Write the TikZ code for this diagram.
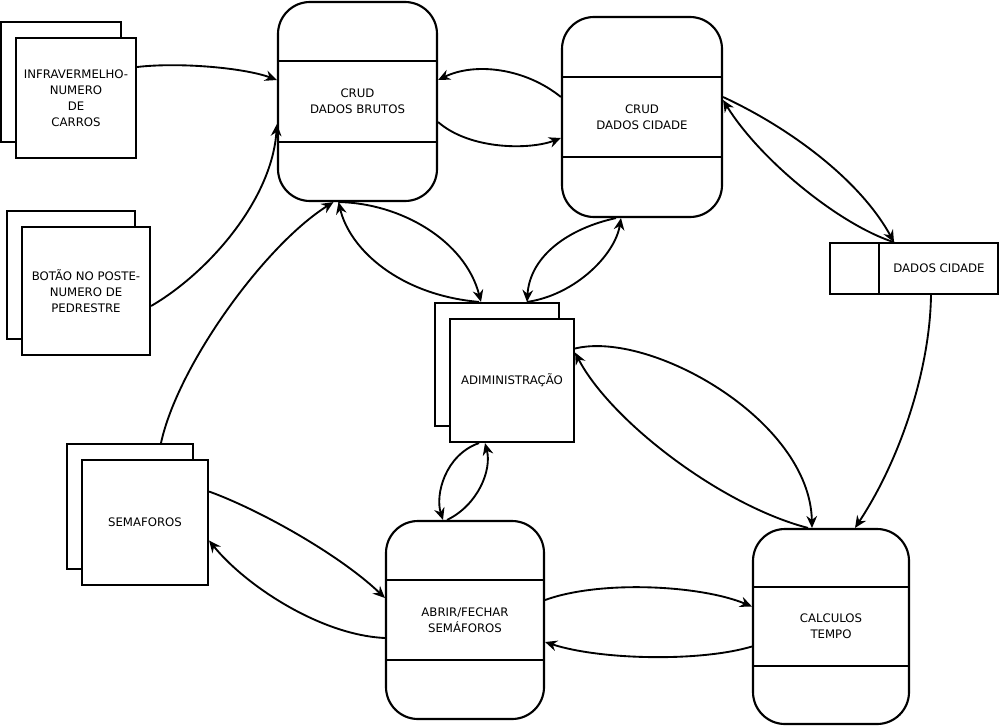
\documentclass[tikz,border=0pt]{standalone}
\usepackage{fontspec}
\setmainfont{DejaVu Sans}
\usepackage{tikz}
\usetikzlibrary{arrows.meta,calc,shadows}
\tikzset{entity/.style={draw, fill=white, line width=1.6pt, align=center,
   copy shadow={shadow xshift=-11.25pt, shadow yshift=12pt, draw, fill=white, line width=1.6pt}},
 process/.style={draw, fill=white, rounded corners=24pt, line width=1.6pt, align=center},
 store/.style={draw, line width=1.2pt, minimum width=126pt, minimum height=38.25pt},
 flow/.style={line width=1.4pt, -{Stealth[length=9pt,width=8pt,inset=3pt]}},
 }

\begin{document}
\begin{tikzpicture}[x=0.75pt, y=-0.75pt, font=\fontsize{8.8pt}{12pt}\selectfont]
        \useasboundingbox (0,0) rectangle (999,725);
        \node[entity, minimum width=90pt, minimum height=90pt] (infra) at (76,98)
            {INFRAVERMELHO-\\NUMERO\\DE\\CARROS};
        \node[entity, minimum width=96pt, minimum height=96pt] (botao) at (86,291)
            {BOTÃO NO POSTE-\\NUMERO DE\\PEDRESTRE};
        \node[entity, minimum width=94.5pt, minimum height=93.75pt] (semaf) at (145,522.5) {SEMAFOROS};
        \node[entity, minimum width=93pt, minimum height=92.25pt] (admin) at (512,380.5) {ADIMINISTRAÇÃO};
        \node[process, minimum width=119.25pt, minimum height=149.25pt] (bruto) at (357.5,101.5)
            {CRUD\\DADOS BRUTOS};
        \node[process, minimum width=120pt, minimum height=150pt] (cidade) at (642,117)
            {CRUD\\DADOS CIDADE};
        \node[process, minimum width=118.5pt, minimum height=148.5pt] (abrir) at (465,620)
            {ABRIR/FECHAR\\SEMÁFOROS};
        \node[process, minimum width=117pt, minimum height=146.25pt] (calc) at (831,626.5)
            {CALCULOS\\TEMPO};
        \node[store, label={[xshift=18.75pt]center:DADOS CIDADE}] (dados) at (914,268.5) {};
        \draw[line width=1.2pt] ([xshift=37.5pt]dados.north west) -- ([xshift=37.5pt]dados.south west);
        \foreach \n in {bruto,cidade,abrir,calc} {
            \draw[line width=1.6pt] ($(\n.north west)!.3!(\n.south west)$) -- ($(\n.north east)!.3!(\n.south east)$);
            \draw[line width=1.6pt] ($(\n.north west)!.7!(\n.south west)$) -- ($(\n.north east)!.7!(\n.south east)$);
        }
        \draw[flow] ($(infra.east)+(0,-31)$) .. controls (180,62) and (245,68) .. ($(bruto.west)+(0,-21.5)$);
        \draw[flow] ($(botao.east)+(0,15)$) .. controls (208,273) and (272,200) .. ($(bruto.west)+(0,22.5)$);
        \draw[flow] ($(semaf.north)+(16,-16)$) .. controls (178,365) and (265,245) .. ($(bruto.south)+(-24,0)$);
        \draw[flow] ($(bruto.south)+(-19,0)$) .. controls (400,203) and (465,240) .. ($(admin.north)+(-31,-16)$);
        \draw[flow] ($(admin.north)+(-33,-16)$) .. controls (400,295) and (350,250) .. ($(bruto.south)+(-19,0)$);
        \draw[flow] ($(cidade.south)+(-26,0)$) .. controls (570,228) and (530,255) .. ($(admin.north)+(15,-16)$);
        \draw[flow] ($(admin.north)+(15,-16)$) .. controls (575,295) and (615,255) .. ($(cidade.south)+(-21,0)$);
        \draw[flow] ($(cidade.west)+(0,-20)$) .. controls (525,68) and (475,62) .. ($(bruto.east)+(0,-21.5)$);
        \draw[flow] ($(bruto.east)+(0,20.5)$) .. controls (470,150) and (530,150) .. ($(cidade.west)+(0,21)$);
        \draw[flow] ($(cidade.east)+(0,-20)$) .. controls (790,128) and (860,180) .. ($(dados.north)+(-20,0)$);
        \draw[flow] ($(dados.north)+(-20,0)$) .. controls (840,225) and (760,160) .. ($(cidade.east)+(0,-17)$);
        \draw[flow] ($(dados.south)+(17,0)$) .. controls (930,370) and (900,460) .. ($(calc.north)+(24,0)$);
        \draw[flow] ($(admin.east)+(0,-32)$) .. controls (650,330) and (810,420) .. ($(calc.north)+(-19,0)$);
        \draw[flow] ($(calc.north)+(-23,0)$) .. controls (720,505) and (610,420) .. ($(admin.east)+(0,-28)$);
        \draw[flow] ($(admin.south)+(-33,0)$) .. controls (445,455) and (435,495) .. ($(abrir.north)+(-22,0)$);
        \draw[flow] ($(abrir.north)+(-18,0)$) .. controls (478,505) and (492,470) .. ($(admin.south)+(-27,0)$);
        \draw[flow] ($(semaf.east)+(0,-31)$) .. controls (260,510) and (340,555) .. ($(abrir.west)+(0,-22)$);
        \draw[flow] ($(abrir.west)+(0,18)$) .. controls (320,635) and (245,585) .. ($(semaf.east)+(0,18)$);
        \draw[flow] ($(abrir.east)+(0,-20)$) .. controls (600,580) and (700,585) .. ($(calc.west)+(0,-20)$);
        \draw[flow] ($(calc.west)+(0,20)$) .. controls (700,662) and (600,660) .. ($(abrir.east)+(0,22)$);
    \end{tikzpicture}
\end{document}
